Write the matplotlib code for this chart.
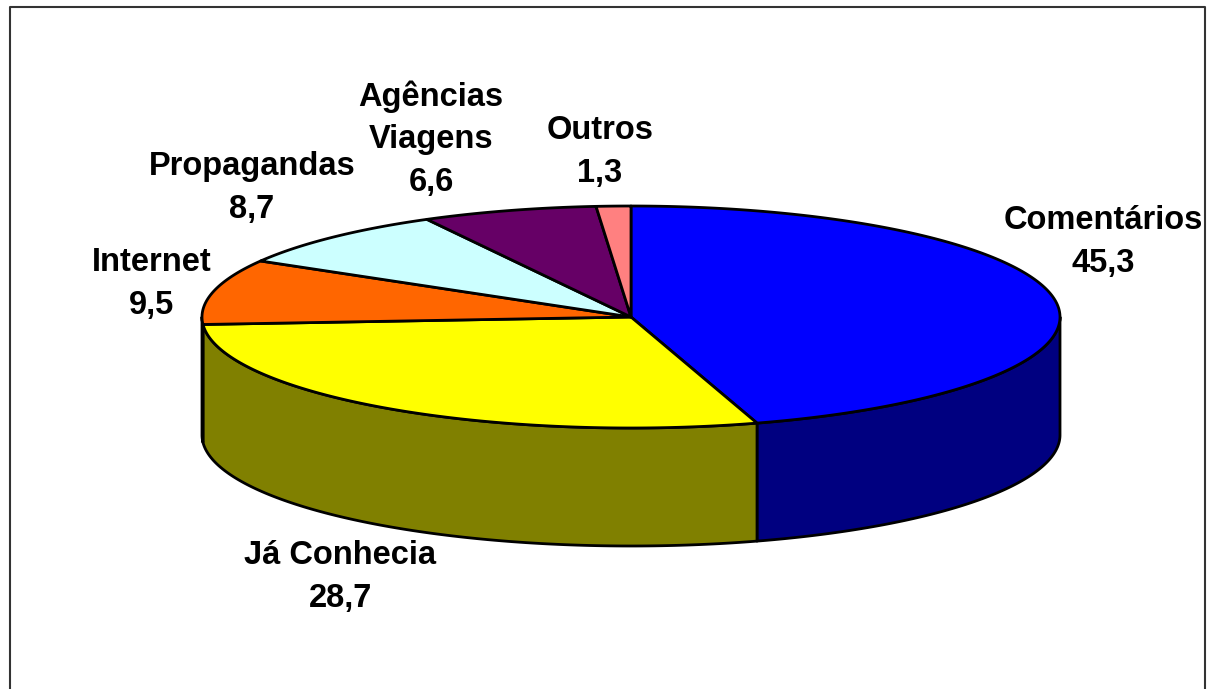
import numpy as np
import matplotlib
matplotlib.use("Agg")
import matplotlib.pyplot as plt
from matplotlib.patches import Polygon

plt.rcParams['font.family'] = ['Liberation Sans', 'DejaVu Sans']

labels = ["Comentários", "Já Conhecia", "Internet", "Propagandas", "Agências\nViagens", "Outros"]
values = [45.3, 28.7, 9.5, 8.7, 6.6, 1.3]
value_labels = ["45,3", "28,7", "9,5", "8,7", "6,6", "1,3"]
top_colors = ["#0000FF", "#FFFF00", "#FF6600", "#CCFFFF", "#660066", "#FF8080"]
side_colors = ["#000080", "#808000", "#803300", "#668080", "#330033", "#804040"]
label_x = [1103, 340, 152, 252, 431, 600]
label_y = [242, 577, 284, 188, 139, 152]

cx, cy = 631, 317
rx, ry = 429, 111
depth = 118
edge = "black"


def rim(a, dy=0):
    # angle in degrees, clockwise from the top
    t = np.radians(a)
    return np.column_stack([cx + rx * np.sin(t), cy - ry * np.cos(t) + dy])


fig = plt.figure(figsize=(12.07, 6.89), dpi=100)
ax = fig.add_axes([0, 0, 1, 1])
ax.set_xlim(0, 1207)
ax.set_ylim(689, 0)
ax.axis("off")

# chart border, open at the bottom
ax.plot([9.5, 9.5, 1205, 1205], [689, 6.5, 6.5, 689], color="#333333", lw=1.5)

angles = np.concatenate([[0], np.cumsum(values) / np.sum(values) * 360])

# walls first, only the front half can be seen
for i in range(len(values)):
    a0 = max(angles[i], 90)
    a1 = min(angles[i + 1], 270)
    if a1 <= a0:
        continue
    arc = np.linspace(a0, a1, 120)
    pts = np.vstack([rim(arc), rim(arc[::-1], depth)])
    ax.add_patch(Polygon(pts, closed=True, facecolor=side_colors[i], edgecolor=edge, lw=2, joinstyle="round"))

# top of the pie
for i in range(len(values)):
    arc = np.linspace(angles[i], angles[i + 1], 200)
    pts = np.vstack([[cx, cy], rim(arc)])
    ax.add_patch(Polygon(pts, closed=True, facecolor=top_colors[i], edgecolor=edge, lw=2, joinstyle="round"))

for i in range(len(labels)):
    ax.text(label_x[i], label_y[i], labels[i] + "\n" + value_labels[i], ha="center", va="center",
            multialignment="center", fontsize=23.5, fontweight="bold", color="black", linespacing=1.48)

fig.savefig("out.png", dpi=100)
